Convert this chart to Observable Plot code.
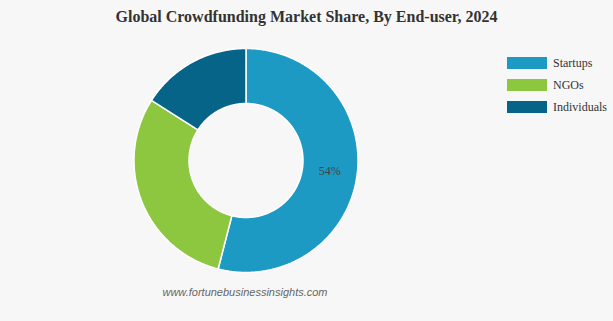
<!DOCTYPE html>
<html><head><meta charset="utf-8">
<script src="https://cdn.jsdelivr.net/npm/d3@7"></script>
<script src="https://cdn.jsdelivr.net/npm/@observablehq/plot@0.6"></script>
<style>
html,body{margin:0;padding:0;background:#f7f7f7;}
#wrap{position:relative;width:613px;height:321px;overflow:hidden;background:#f7f7f7;}
#title{position:absolute;left:0;top:8px;width:613px;text-align:center;font:bold 16px "Liberation Serif","Times New Roman",serif;color:#333;}
#legend{position:absolute;left:507px;top:52px;font:12px "Liberation Serif","Times New Roman",serif;color:#333;}
.row{display:flex;align-items:center;height:22px;margin-top:0;}
.sw{width:40px;height:12px;margin-right:6px;}
#caption{position:absolute;left:0;width:490px;top:286px;text-align:center;font:italic 11px "Liberation Sans",Arial,sans-serif;color:#666;}
#chart{position:absolute;left:0;top:0;}
</style></head>
<body><div id="wrap"><div id="chart"></div><div id="title"></div><div id="legend"></div><div id="caption"></div></div>
<script>
const titleText = "Global Crowdfunding Market Share, By End-user, 2024";
const captionText = "www.fortunebusinessinsights.com";
const categories = ["Startups", "NGOs", "Individuals"];
const shares = [54, 30, 16];
const colors = ["#1c9ac3", "#8dc63f", "#076489"];
const shownLabels = ["54%", "", ""];

document.getElementById("title").textContent = titleText;
document.getElementById("caption").textContent = captionText;
const leg = document.getElementById("legend");
categories.forEach((c, i) => {
  const r = document.createElement("div"); r.className = "row";
  const s = document.createElement("div"); s.className = "sw"; s.style.background = colors[i];
  const t = document.createElement("span"); t.textContent = c;
  r.appendChild(s); r.appendChild(t); leg.appendChild(r);
});

const inner = 57 / 112;
const total = d3.sum(shares);
const pts = [];
const labels = [];
let start = 0;
categories.forEach((c, i) => {
  const a0 = start / total * 2 * Math.PI;
  const a1 = (start + shares[i]) / total * 2 * Math.PI;
  const n = Math.max(8, Math.ceil((a1 - a0) / 0.01));
  for (let k = 0; k <= n; k++) {
    const a = a0 + (a1 - a0) * k / n;
    pts.push({cat: c, x: Math.sin(a), y: Math.cos(a)});
  }
  for (let k = n; k >= 0; k--) {
    const a = a0 + (a1 - a0) * k / n;
    pts.push({cat: c, x: inner * Math.sin(a), y: inner * Math.cos(a)});
  }
  const am = (a0 + a1) / 2, rm = (1 + inner) / 2;
  labels.push({text: shownLabels[i], x: rm * Math.sin(am), y: rm * Math.cos(am)});
  start += shares[i];
});

const plot = Plot.plot({
  width: 613, height: 321,
  margin: 0,
  style: {background: "transparent"},
  x: {domain: [-1, 1], range: [133.5, 357.5], axis: null},
  y: {domain: [-1, 1], range: [272, 48], axis: null},
  color: {domain: categories, range: colors},
  marks: [
    Plot.line(pts, {x: "x", y: "y", z: "cat", fill: "cat", stroke: "#fff", strokeWidth: 1.5, curve: "linear-closed"}),
    Plot.text(labels.filter(d => d.text), {x: "x", y: "y", text: "text", fill: "#444", fontSize: 12, fontFamily: "Liberation Serif, Times New Roman, serif"})
  ]
});
document.getElementById("chart").appendChild(plot);
</script></body></html>
